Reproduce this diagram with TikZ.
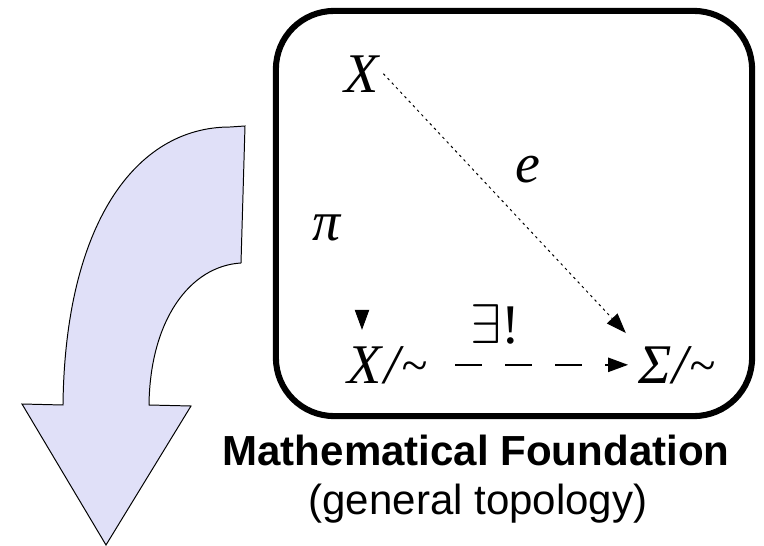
\RequirePackage{fix-cm}
\documentclass[tikz,border=0pt]{standalone}
\usepackage{fontspec}
\setmainfont{Liberation Serif}
\setsansfont{Liberation Sans}
\usetikzlibrary{arrows.meta,calc}
\definecolor{quotLavender}{HTML}{E0E0F8}
\newcommand{\eqcls}{\kern1pt\raisebox{1pt}{\scalebox{0.85}{\textasciitilde}}}
\tikzset{
  sym/.style={font=\fontsize{39.8}{44}\selectfont\itshape,inner sep=0.1cm},
  frame/.style={draw,line width=4.3pt,rounded corners=1.45cm,
    minimum width=11.9cm,minimum height=10.125cm},
  headtip/.style={-{Triangle[length=0.5cm,width=0.36cm]}},
  embed/.style={headtip,line width=0.7pt,dash pattern=on 1.8pt off 2.6pt},
  induced/.style={headtip,line width=1pt,dash pattern=on 0.675cm off 0.575cm},
  caption/.style={font=\fontsize{29.9}{34}\selectfont\sffamily,inner sep=0pt},
  bigarrow/.style={draw,line width=0.7pt,fill=quotLavender,line join=miter}
}
\begin{document}
\begin{tikzpicture}[x=0.025cm,y=-0.025cm]
  \useasboundingbox (0,0) rectangle (764,546);
  % curved block arrow on the left
  \draw[bigarrow] (245,126) -- (241,263)
     .. controls (190,266) and (150,320) .. (149,405)
     -- (191,406) -- (106,545) -- (22,404) -- (63,405)
     .. controls (65,225) and (135,127) .. (230,127) -- cycle;

  \node[frame] (box) at (514,213.5) {};

  \node[sym,anchor=base] (x) at (362,92) {X};
  \node[sym] (e) at (528,170) {e};
  \node[sym] (pi) at (327,228) {π};
  \node[sym,anchor=base] (xq) at (387,383) {X\kern2pt/\eqcls};
  \node[sym,anchor=base] (sq) at (677,383) {Σ\kern1pt/\eqcls};
  \node[sym,font=\fontsize{39.8}{44}\selectfont] (ex) at (495,324) {$\exists$!};

  \draw[embed,shorten >=0.3cm] (x.east) -- (sq.north west);
  \draw[induced,shorten <=0.6cm,shorten >=0.15cm] (xq.east) -- (sq.west);
  \draw[headtip,line width=0.6pt,shorten <=5.4cm,shorten >=0.3cm]
     (x.south) -- (x.south |- xq.north);

  \node[caption,font=\fontsize{29.9}{34}\selectfont\sffamily\bfseries,anchor=base]
     (title) at (476,465) {Mathematical Foundation};
  \node[caption,anchor=base] (sub) at (478,514) {(general topology)};
\end{tikzpicture}
\end{document}
